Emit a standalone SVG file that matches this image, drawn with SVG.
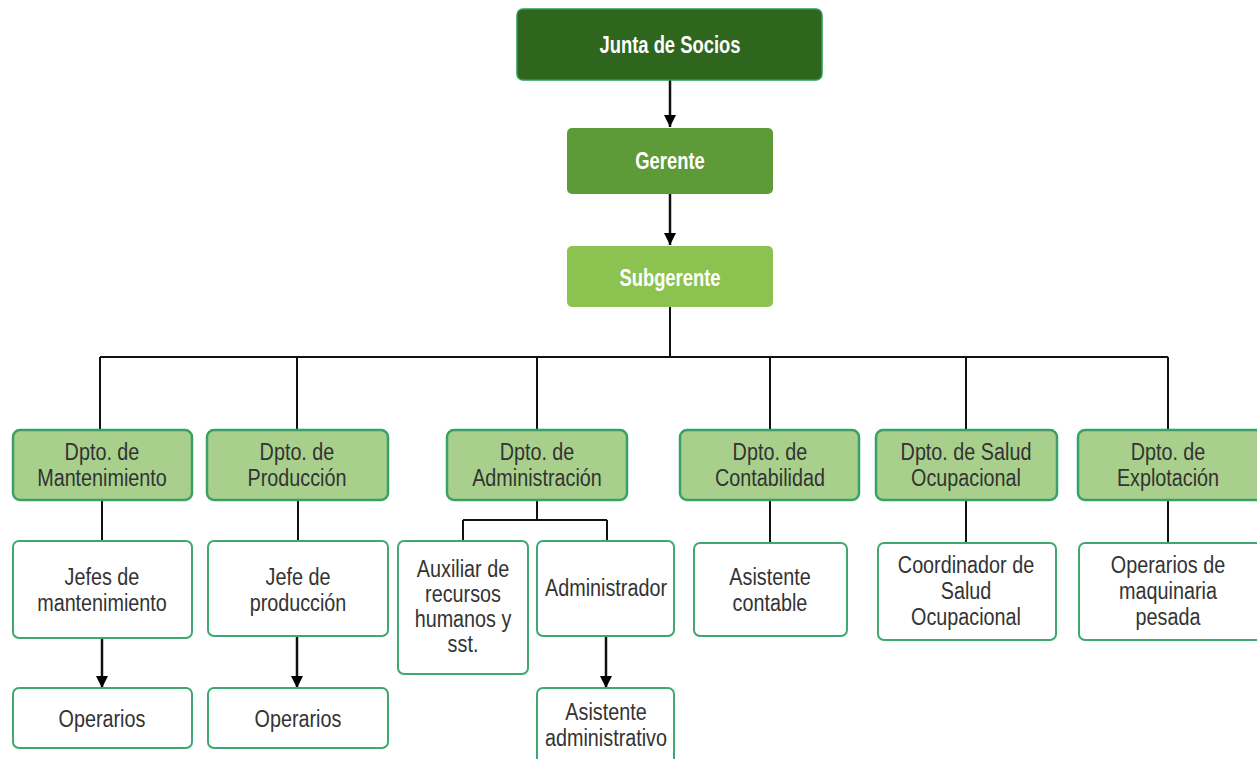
<svg xmlns="http://www.w3.org/2000/svg" width="1257" height="759" viewBox="0 0 1257 759">
<defs>
<marker id="ah" viewBox="0 0 10 10" refX="10" refY="5" markerWidth="14" markerHeight="12" markerUnits="userSpaceOnUse" orient="auto">
<path d="M0,0 L10,5 L0,10 z" fill="#000"/>
</marker>
<style>
.t{font-family:"Liberation Sans Narrow","Liberation Sans",Arial,sans-serif;font-size:23px;text-anchor:middle;fill:#333;transform:scaleX(0.86);transform-box:fill-box;transform-origin:center}
.w{fill:#fff;font-size:23px;font-weight:bold;transform:scaleX(0.8)}
.dept{fill:#a8d08c;stroke:#3aa166;stroke-width:2.5}
.box{fill:#fff;stroke:#3fa872;stroke-width:2}
.ln{stroke:#111;stroke-width:2;fill:none}
</style>
</defs>
<rect width="1257" height="759" fill="#fff"/>
<g id="connectors">
<line class="ln" x1="670" y1="80" x2="670" y2="127" marker-end="url(#ah)" style="stroke-width:2.5"/>
<line class="ln" x1="670" y1="194" x2="670" y2="245" marker-end="url(#ah)" style="stroke-width:2.5"/>
<path class="ln" d="M670,307 V357 M100,357 H1168 M100,357 V430 M297,357 V430 M537,357 V430 M770,357 V430 M966,357 V430 M1168,357 V430"/>
<path class="ln" d="M102,500 V541 M298,500 V541 M770,500 V543 M966,500 V543 M1168,500 V543"/>
<path class="ln" d="M537,500 V520 M463,520 H607 M463,520 V541 M607,520 V541"/>
<line class="ln" x1="102" y1="638" x2="102" y2="688" marker-end="url(#ah)" style="stroke-width:2.5"/>
<line class="ln" x1="297" y1="636" x2="297" y2="688" marker-end="url(#ah)" style="stroke-width:2.5"/>
<line class="ln" x1="606" y1="636" x2="606" y2="688" marker-end="url(#ah)" style="stroke-width:2.5"/>
</g>
<g id="junta"><rect x="517" y="9" width="305" height="71" rx="6" fill="#2f661d" stroke="#2a9a5a" stroke-width="1.5"/><text class="t w" x="670" y="53">Junta de Socios</text></g>
<g id="gerente"><rect x="567" y="128" width="206" height="66" rx="5" fill="#5f9a38"/><text class="t w" x="670" y="169">Gerente</text></g>
<g id="subgerente"><rect x="567" y="246" width="206" height="61" rx="5" fill="#8cc24f"/><text class="t w" x="670" y="286">Subgerente</text></g>
<g id="d-mant"><rect class="dept" x="13" y="430" width="179" height="70" rx="7"/><text class="t" x="102" y="460">Dpto. de</text><text class="t" x="102" y="486">Mantenimiento</text></g>
<g id="d-prod"><rect class="dept" x="207" y="430" width="181" height="70" rx="7"/><text class="t" x="297" y="460">Dpto. de</text><text class="t" x="297" y="486">Producción</text></g>
<g id="d-adm"><rect class="dept" x="447" y="430" width="180" height="70" rx="7"/><text class="t" x="537" y="460">Dpto. de</text><text class="t" x="537" y="486">Administración</text></g>
<g id="d-cont"><rect class="dept" x="680" y="430" width="179" height="70" rx="7"/><text class="t" x="770" y="460">Dpto. de</text><text class="t" x="770" y="486">Contabilidad</text></g>
<g id="d-salud"><rect class="dept" x="876" y="430" width="181" height="70" rx="7"/><text class="t" x="966" y="460">Dpto. de Salud</text><text class="t" x="966" y="486">Ocupacional</text></g>
<g id="d-expl"><rect class="dept" x="1078" y="430" width="185" height="70" rx="7"/><text class="t" x="1168" y="460">Dpto. de</text><text class="t" x="1168" y="486">Explotación</text></g>
<g id="jefes-mant"><rect class="box" x="13" y="541" width="179" height="97" rx="6"/><text class="t" x="102" y="585">Jefes de</text><text class="t" x="102" y="611">mantenimiento</text></g>
<g id="jefe-prod"><rect class="box" x="208" y="541" width="180" height="95" rx="6"/><text class="t" x="298" y="585">Jefe de</text><text class="t" x="298" y="611">producción</text></g>
<g id="auxiliar"><rect class="box" x="398" y="541" width="130" height="133" rx="6"/><text class="t" x="463" y="577">Auxiliar de</text><text class="t" x="463" y="602">recursos</text><text class="t" x="463" y="627">humanos y</text><text class="t" x="463" y="652">sst.</text></g>
<g id="administrador"><rect class="box" x="537" y="541" width="137" height="95" rx="6"/><text class="t" x="606" y="596">Administrador</text></g>
<g id="asist-cont"><rect class="box" x="694" y="543" width="153" height="93" rx="6"/><text class="t" x="770" y="585">Asistente</text><text class="t" x="770" y="611">contable</text></g>
<g id="coord"><rect class="box" x="878" y="543" width="178" height="97" rx="6"/><text class="t" x="966" y="573">Coordinador de</text><text class="t" x="966" y="599">Salud</text><text class="t" x="966" y="625">Ocupacional</text></g>
<g id="op-maq"><rect class="box" x="1079" y="543" width="184" height="97" rx="6"/><text class="t" x="1168" y="573">Operarios de</text><text class="t" x="1168" y="599">maquinaria</text><text class="t" x="1168" y="625">pesada</text></g>
<g id="op1"><rect class="box" x="13" y="688" width="179" height="60" rx="6"/><text class="t" x="102" y="727">Operarios</text></g>
<g id="op2"><rect class="box" x="208" y="688" width="180" height="60" rx="6"/><text class="t" x="298" y="727">Operarios</text></g>
<g id="asist-adm"><rect class="box" x="537" y="688" width="137" height="80" rx="6"/><text class="t" x="606" y="720">Asistente</text><text class="t" x="606" y="746">administrativo</text></g>
</svg>
